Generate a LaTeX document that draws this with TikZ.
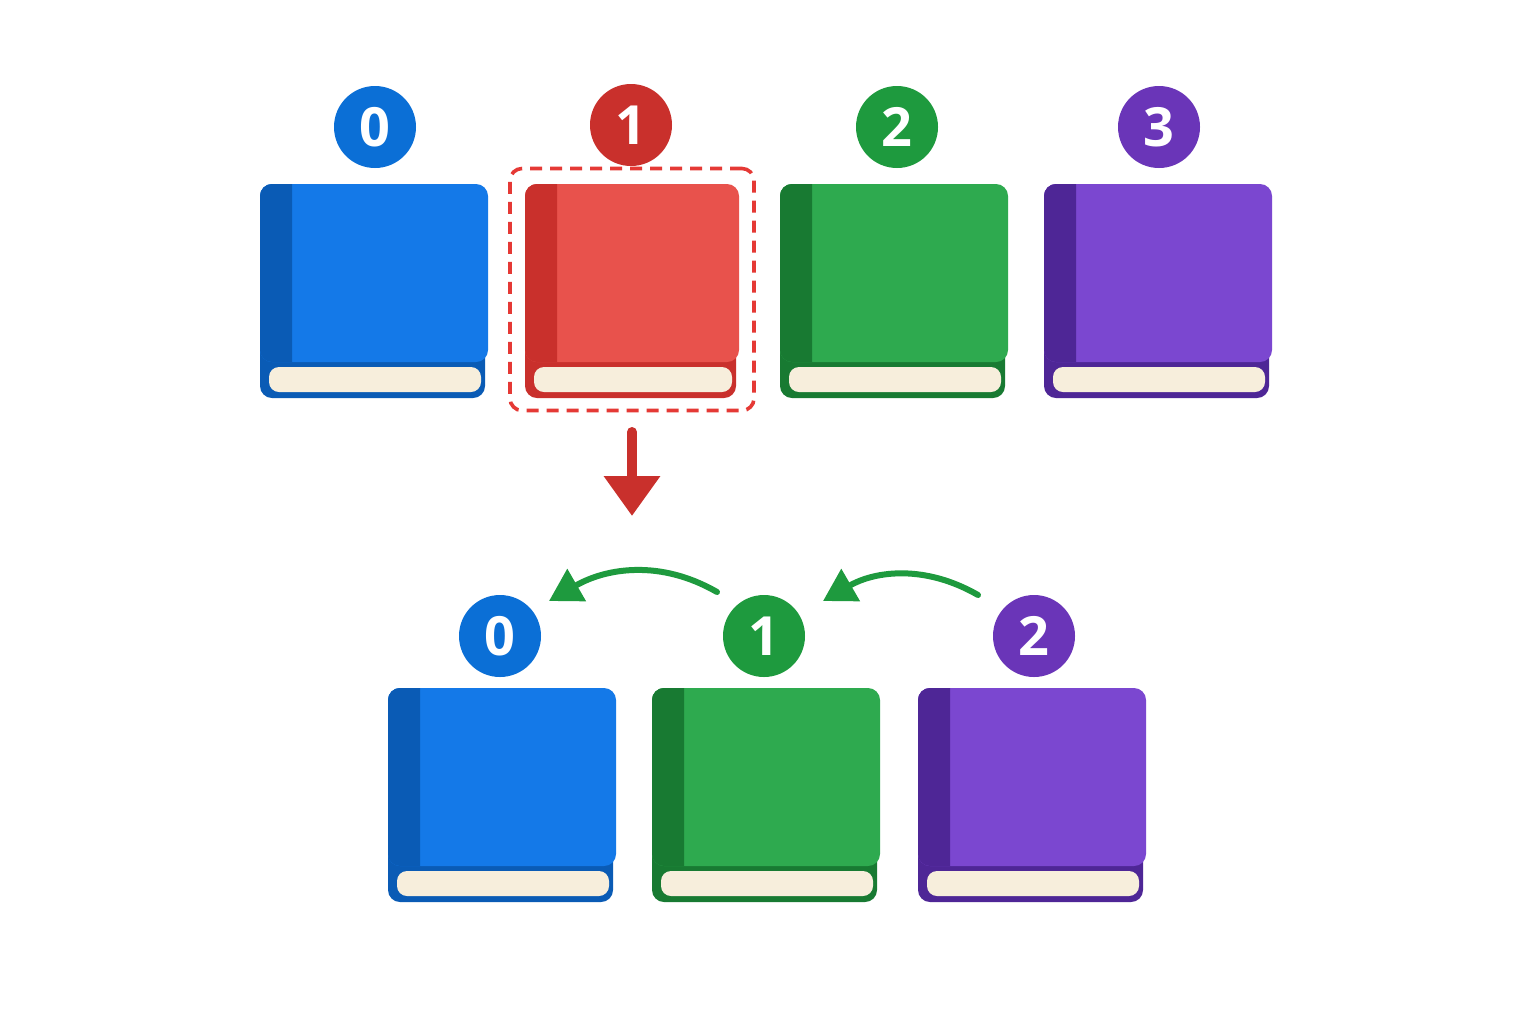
\documentclass[tikz,border=0pt]{standalone}
\usepackage{fontspec}
\setsansfont{Open Sans}
\usetikzlibrary{arrows.meta}
\definecolor{bF}{HTML}{1479E8}\definecolor{bD}{HTML}{0A5BB5}
\definecolor{rF}{HTML}{E8524C}\definecolor{rD}{HTML}{C9302C}
\definecolor{gF}{HTML}{2EAA4F}\definecolor{gD}{HTML}{187A32}
\definecolor{pF}{HTML}{7B47D0}\definecolor{pD}{HTML}{4E2696}
\definecolor{bC}{HTML}{0B6FD6}\definecolor{rC}{HTML}{C9302C}
\definecolor{gC}{HTML}{1E9A3E}\definecolor{pC}{HTML}{6A35B8}
\definecolor{page}{HTML}{F7EEDC}\definecolor{arrg}{HTML}{1E9A3E}
\definecolor{dash}{HTML}{E53935}
\newcommand\mybook[5][228]{% [w] x y front dark
  \fill[#5,rounded corners=6pt] (#2,#3) rectangle ++(#1-3,214);
  \fill[#4,rounded corners=6pt] (#2,#3) rectangle ++(#1,178);
  \fill[#5] (#2+32,#3) [rounded corners=6pt]-- (#2,#3) -- (#2,#3+178) [sharp corners]-- (#2+32,#3+178) -- cycle;
  \fill[page,rounded corners=5pt] (#2+9,#3+183) rectangle ++(#1-16,25);
}
\tikzset{num/.style={circle,minimum size=41pt,inner sep=0pt,text=white,font=\sffamily\bfseries\fontsize{27}{27}\selectfont}}
\begin{document}
\begin{tikzpicture}[x=0.5pt,y=-0.5pt]
\useasboundingbox[fill=white] (0,0) rectangle (1536,1024);
\mybook{260}{184}{bF}{bD}
\mybook[214]{525}{184}{rF}{rD}
\mybook{780}{184}{gF}{gD}
\mybook{1044}{184}{pF}{pD}
\mybook{388}{688}{bF}{bD}
\mybook{652}{688}{gF}{gD}
\mybook{918}{688}{pF}{pD}
\node[num,fill=bC] (t0) at (375,127) {0};
\node[num,fill=rC] (t1) at (631,125) {1};
\node[num,fill=gC] (t2) at (897,127) {2};
\node[num,fill=pC] (t3) at (1159,127) {3};
\node[num,fill=bC] (b0) at (500,636) {0};
\node[num,fill=gC] (b1) at (764,636) {1};
\node[num,fill=pC] (b2) at (1034,636) {2};
\node[draw=dash,line width=1.8pt,dash pattern=on 6pt off 4pt,rounded corners=6pt,minimum width=122pt,minimum height=121pt] (sel) at (632,289.5) {};
\coordinate (a1) at (632,432); \coordinate (a2) at (632,516);
\draw[rD,line width=5pt,line cap=round,-{Triangle[width=27pt,length=20pt]}] (a1) -- (a2);
\coordinate (c1) at (717,592); \coordinate (c2) at (549,601);
\coordinate (c3) at (978,595); \coordinate (c4) at (823,601);
\draw[arrg,line width=3pt,line cap=round,-{Triangle[width=18pt,length=16pt]}] (c1) to[out=150,in=30] (c2);
\draw[arrg,line width=3pt,line cap=round,-{Triangle[width=18pt,length=16pt]}] (c3) to[out=150,in=30] (c4);
\end{tikzpicture}
\end{document}
